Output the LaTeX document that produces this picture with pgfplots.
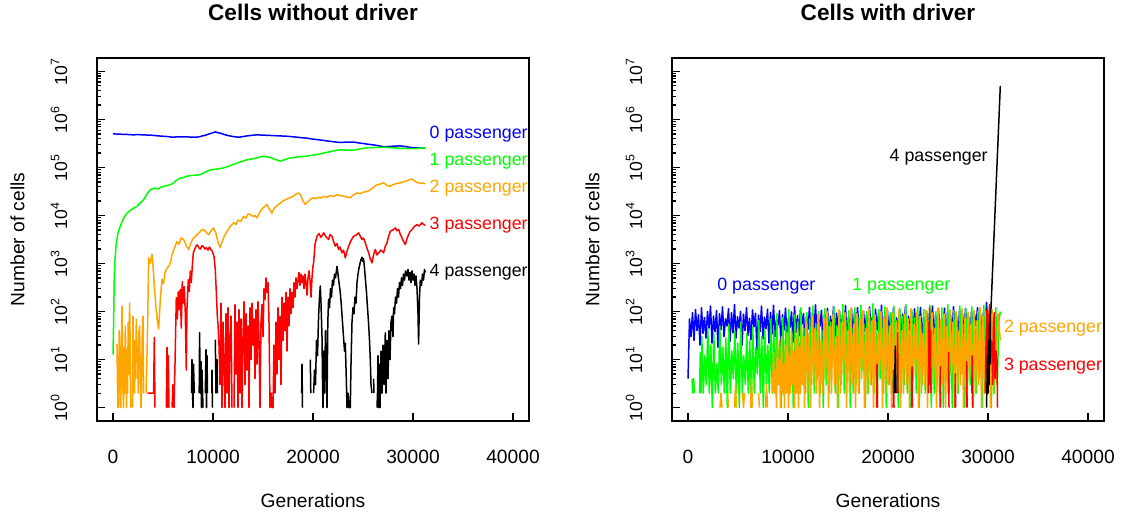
\documentclass[border=0pt]{standalone}
\usepackage{fontspec}
\setmainfont{Liberation Sans}
\usepackage{pgfplots}
\pgfplotsset{compat=1.18}

\definecolor{rblue}{RGB}{0,0,255}
\definecolor{rgreen}{RGB}{0,255,0}
\definecolor{rorange}{RGB}{255,165,0}
\definecolor{rred}{RGB}{255,0,0}

\tikzset{lab/.style={anchor=west, inner sep=0pt, font=\fontsize{8.9}{10}\selectfont}}

\begin{document}
\begin{tikzpicture}
\path[use as bounding box] (0,0) rectangle (561.5pt,259.5pt);

% ---------------- left panel ----------------
\begin{axis}[
    at={(48.5pt,49pt)}, anchor=south west,
    scale only axis, width=216pt, height=181.5pt,
    xmin=-1600, xmax=41600,
    ymode=log, ymin=0.5248, ymax=1.905e7,
    axis line style={line width=0.6pt},
    tick style={black, line width=0.6pt},
    tick align=inside, xtick pos=bottom, ytick pos=left,
    major tick length=4pt, minor tick length=2pt,
    xtick={0,10000,20000,30000,40000},
    xticklabels={0,10000,20000,30000,40000},
    scaled x ticks=false,
    ytick={1,10,100,1000,10000,100000,1000000,10000000},
    yticklabels={10\textsuperscript{0},10\textsuperscript{1},10\textsuperscript{2},10\textsuperscript{3},10\textsuperscript{4},10\textsuperscript{5},10\textsuperscript{6},10\textsuperscript{7}},
    minor ytick={2,3,4,5,6,7,8,9,20,30,40,50,60,70,80,90,200,300,400,500,600,700,800,900,2000,3000,4000,5000,6000,7000,8000,9000,20000,30000,40000,50000,60000,70000,80000,90000,200000,300000,400000,500000,600000,700000,800000,900000,2000000,3000000,4000000,5000000,6000000,7000000,8000000,9000000},
    xticklabel style={font=\fontsize{9.6}{11}\selectfont, anchor=base, yshift=-21.5pt},
    yticklabel style={font=\fontsize{8.8}{10}\selectfont, xshift=-15pt, rotate=90, anchor=base},
    xlabel={Generations}, ylabel={Number of cells},
    xlabel style={at={(axis description cs:0.5,-0.2204)}, anchor=center, font=\fontsize{9.6}{11}\selectfont},
    ylabel style={at={(axis description cs:-0.184,0.5)}, anchor=center, font=\fontsize{9.6}{11}\selectfont},
    title={Cells without driver},
    title style={at={(axis description cs:0.5,1.1267)}, anchor=center, yshift=-6pt, font=\bfseries\fontsize{11.3}{13}\selectfont},
    unbounded coords=jump, clip=false,
    every axis plot/.append style={line width=0.75pt, line join=round},
]
% 0 passenger
\addplot[rblue, no marks] coordinates {(0,501000)(500,495000)(1000,489800)(1500,486000)(2000,478600)(2500,482000)(3000,478600)(3500,472000)(4000,467700)(4500,455000)(5000,446700)(5500,440000)(5900,426600)(6400,433000)(7000,436500)(7700,430000)(8400,426600)(8800,445000)(9200,467700)(9800,512900)(10230,549500)(10500,530000)(10800,512900)(11200,480000)(11600,457100)(12100,438000)(12560,426600)(13000,440000)(13500,457100)(14000,470000)(14400,478600)(14900,472000)(15400,467700)(15900,462000)(16400,457100)(16900,452000)(17400,446700)(17900,438000)(18400,426600)(18900,416000)(19400,407400)(19900,392000)(20400,380200)(21000,368000)(21500,354800)(22100,342000)(22730,331100)(23400,338800)(24060,338800)(24500,326000)(25000,316200)(25500,305000)(26060,295100)(26600,282000)(27060,269200)(27400,272000)(27800,275400)(28300,279000)(28730,281800)(29000,276000)(29400,269200)(29700,262000)(30060,257000)(30400,259000)(30700,255000)(31000,253000)(31230,251200)};
% 1 passenger
\addplot[rgreen, no marks] coordinates {(0,12.6)(60,60)(130,550)(230,1500)(330,2690)(500,4300)(730,6030)(1000,8200)(1200,9800)(1400,11220)(1700,12600)(2000,14000)(2400,15490)(2700,18000)(3060,21380)(3400,28000)(3730,34670)(4000,36000)(4230,37150)(4500,35500)(4800,39000)(5200,41000)(5730,43650)(6000,47000)(6300,53000)(6730,60260)(7100,62000)(7400,66000)(7730,67610)(8200,69000)(8730,70790)(9200,80000)(9730,89130)(10300,92000)(11060,97720)(11500,105000)(12000,115000)(12400,123000)(12900,134000)(13400,144500)(14000,152000)(14500,160000)(14900,169800)(15300,168000)(15730,162200)(16200,148000)(16730,134900)(17200,146000)(17730,158500)(18300,164000)(19060,169800)(19700,176000)(20400,186200)(21000,198000)(21730,213800)(22200,225000)(22730,234400)(23400,229000)(24060,229100)(24700,244000)(25400,257000)(26200,260000)(27060,263000)(27900,257000)(28730,251200)(29400,248000)(30060,245500)(30700,252000)(31230,257000)};
% 2 passenger
\addplot[rorange, no marks] coordinates {(350,0)(397,21)(450,3)(500,1)(560,1)(620,40)(700,6)(780,1)(850,30)(900,129)(960,12)(1000,2)(1060,1)(1120,18)(1180,2)(1230,50)(1300,8)(1350,1)(1400,16)(1460,2)(1520,60)(1580,5)(1660,151)(1720,20)(1760,2)(1800,1)(1850,0)(1900,0)(1950,1)(2000,80)(2060,10)(2100,3)(2160,2)(2220,25)(2280,4)(2330,69)(2400,9)(2460,16)(2520,2)(2580,35)(2660,50)(2720,6)(2800,1)(2850,2)(2920,30)(3000,80)(3063,2)(3100,0)
(3250,0)(3300,2)(3400,12)(3480,90)(3563,1320)(3700,1000)(3897,1550)(4000,900)(4150,300)(4300,120)(4450,60)(4563,43)(4650,90)(4750,200)(4897,470)(5050,380)(5200,650)(5400,800)(5600,900)(5730,1020)(5900,1500)(6100,2000)(6250,2400)(6397,2880)(6600,2500)(6800,3400)(7063,3160)(7250,2600)(7400,2200)(7563,1950)(7800,2700)(8000,3300)(8200,3600)(8397,3980)(8600,4300)(8800,4900)(9063,5130)(9300,4500)(9563,3980)(9800,4800)(10063,5500)(10300,4200)(10500,2800)(10730,2140)(10900,2800)(11100,3600)(11397,4680)(11700,5800)(12063,7080)(12300,6500)(12500,8000)(12800,7600)(13063,9550)(13300,8800)(13500,10800)(13730,10470)(14000,9500)(14200,10000)(14397,8910)(14700,12000)(15000,14500)(15200,15500)(15397,17000)(15600,14000)(15897,11220)(16100,14000)(16400,16000)(16730,18200)(17000,20000)(17300,21500)(17500,22500)(17730,23440)(18000,25000)(18300,28000)(18563,29510)(18800,26000)(19000,20000)(19230,17000)(19500,19500)(19800,22000)(20063,23440)(20300,22500)(20600,24000)(20800,23000)(21063,25120)(21400,24000)(21700,26000)(22000,25000)(22397,26920)(22700,26000)(23000,25500)(23300,24500)(23730,23440)(24000,26500)(24200,28000)(24397,29510)(24700,28500)(25000,30500)(25397,31620)(25700,34000)(26000,38000)(26397,43650)(26700,45000)(27063,47860)(27400,42000)(27730,40740)(28000,44000)(28300,46000)(28730,47860)(29000,50000)(29300,52000)(29600,55000)(29897,57540)(30100,53000)(30300,50000)(30563,47860)(30800,46500)(31000,47500)(31230,45700)};
% 3 passenger
\addplot[rred, no marks] coordinates {(3450,0)(3463,2)(3700,2)(3900,2)(4063,2)(4130,29)(4200,1)(4250,0)
(5300,0)(5330,1)(5400,18)(5470,1)(5530,12)(5600,1)(5650,0)
(5850,0)(5900,1)(6000,3)(6100,1)(6200,8)(6330,195)(6430,70)(6530,260)(6630,110)(6730,290)(6830,45)(6930,420)(7030,150)(7130,330)(7230,90)(7330,6)(7400,120)(7530,460)(7630,260)(7730,700)(7830,400)(7930,900)(8030,1650)(8130,1900)(8300,2300)(8430,2450)(8600,2100)(8730,2000)(8900,2350)(9030,2250)(9200,2000)(9330,2150)(9500,1900)(9630,2200)(9800,1950)(9930,1800)(10100,1400)(10230,750)(10360,185)(10430,80)(10500,55)
(10600,20)(10700,3)(10800,150)(10900,1)(11000,60)(11100,8)(11200,1)(11300,90)(11400,2)(11500,120)(11600,1)(11700,25)(11800,80)(11900,1)(11950,0)(12050,0)(12100,1)(12200,140)(12300,5)(12400,60)(12500,1)(12600,110)(12700,2)(12800,70)(12900,1)(13000,30)(13100,160)(13200,3)(13300,90)(13400,6)(13500,50)(13600,1)(13700,120)(13800,10)(13900,150)(14000,20)(14100,70)(14200,4)(14300,110)(14400,8)(14500,160)(14600,25)(14700,1)(14800,60)(14900,140)(15000,30)(15100,300)(15200,180)(15300,500)(15400,250)(15500,400)(15600,60)(15700,1)(15800,2)(15900,1)(16000,1)
(16100,20)(16200,2)(16300,60)(16400,5)(16500,120)(16600,10)(16700,80)(16800,3)(16900,200)(17000,25)(17100,150)(17200,40)(17300,250)(17400,15)(17500,200)(17600,50)(17700,300)(17800,90)(17900,250)(18000,120)(18100,400)(18200,200)(18300,500)(18400,300)(18500,450)(18600,650)(18700,350)(18800,600)(18900,400)(19000,550)(19100,300)(19200,600)(19300,400)(19400,220)(19500,500)(19600,700)(19700,450)(19800,200)(19900,500)(20000,900)(20063,1030)(20200,2500)(20397,3700)(20600,4200)(20800,3500)(21063,4350)(21300,3600)(21563,3160)(21700,4000)(21897,3700)(22050,2900)(22230,2300)(22400,2600)(22563,1960)(22700,2200)(22897,1670)(23050,1900)(23230,1310)(23400,1800)(23563,2300)(23800,3000)(24063,3700)(24300,3900)(24563,4350)(24700,3800)(24897,3160)(25050,3400)(25230,2690)(25400,2100)(25563,1670)(25700,1300)(25897,1030)(26050,1500)(26230,1960)(26400,1500)(26563,1670)(26800,1900)(27063,1670)(27200,2200)(27397,2690)(27550,3600)(27730,4710)(28000,5000)(28230,5520)(28400,4800)(28563,5100)(28700,4200)(28897,3420)(29050,2900)(29230,2490)(29400,3300)(29563,4010)(29700,4600)(29897,5100)(30100,5800)(30397,6460)(30600,6000)(30897,7020)(31050,6500)(31230,6200)};
% 4 passenger
\addplot[black, no marks] coordinates {(7800,0)(7850,2)(7900,10)(7950,2)(8000,1)(8050,8)(8130,2)(8200,0)
(8600,0)(8620,2)(8660,36)(8720,2)(8800,9)(8850,1)(8900,6)(8960,2)(9000,1)(9050,0)
(9200,0)(9230,2)(9300,16)(9350,1)(9400,12)(9450,2)(9500,0)
(9850,0)(9880,2)(9900,6)(9950,1)(10000,0)
(10200,0)(10230,26)(10300,2)(10400,10)(10450,2)(10500,0)
(18850,0)(18870,2)(18900,8)(18950,1)(19000,0)
(19700,0)(19730,10)(19780,2)(19850,0)
(20000,0)(20060,2)(20150,6)(20250,3)(20350,25)(20450,12)(20560,80)(20650,200)(20730,340)(20800,150)(20900,30)(20950,4)(21000,1)(21060,15)(21150,2)(21250,40)(21330,6)(21400,1)(21480,60)(21560,180)(21650,120)(21750,300)(21850,200)(21950,450)(22050,350)(22150,600)(22250,500)(22400,870)(22500,600)(22600,400)(22730,250)(22850,120)(22950,60)(23050,30)(23150,15)(23230,22)(23330,4)(23400,1)(23500,2)(23600,1)(23730,1)(23800,8)(23900,60)(24000,120)(24100,90)(24200,200)(24300,150)(24400,400)(24500,600)(24600,800)(24700,1000)(24800,1200)(24900,1350)(25000,1100)(25060,1250)(25150,800)(25230,500)(25350,250)(25450,120)(25550,60)(25650,25)(25730,10)(25800,3)(25900,2)(25950,0)
(26050,0)(26060,4)(26100,2)(26150,0)
(26350,0)(26400,1)(26450,2)(26500,12)(26550,1)(26650,8)(26700,1)(26800,15)(26900,2)(27000,20)(27100,3)(27230,36)(27300,2)(27400,25)(27500,4)(27600,40)(27700,10)(27800,60)(27900,80)(28000,30)(28060,120)(28150,90)(28250,200)(28350,150)(28450,300)(28550,200)(28650,400)(28750,300)(28850,500)(28950,350)(29050,600)(29150,450)(29250,700)(29400,550)(29500,750)(29600,450)(29700,650)(29800,400)(29900,700)(30000,450)(30100,600)(30200,350)(30300,550)(30400,300)(30500,90)(30560,21)(30650,200)(30730,450)(30850,350)(30950,600)(31050,450)(31150,750)(31230,650)};
\node[lab, text=rblue] at (axis cs:31630,5.0e5) {0 passenger};
\node[lab, text=rgreen] at (axis cs:31630,1.34e5) {1 passenger};
\node[lab, text=rorange] at (axis cs:31630,3.8e4) {2 passenger};
\node[lab, text=rred] at (axis cs:31630,6300) {3 passenger};
\node[lab, text=black] at (axis cs:31630,650) {4 passenger};
\end{axis}

% ---------------- right panel ----------------
\begin{axis}[
    at={(336pt,49pt)}, anchor=south west,
    scale only axis, width=216pt, height=181.5pt,
    xmin=-1600, xmax=41600,
    ymode=log, ymin=0.5248, ymax=1.905e7,
    axis line style={line width=0.6pt},
    tick style={black, line width=0.6pt},
    tick align=inside, xtick pos=bottom, ytick pos=left,
    major tick length=4pt, minor tick length=2pt,
    xtick={0,10000,20000,30000,40000},
    xticklabels={0,10000,20000,30000,40000},
    scaled x ticks=false,
    ytick={1,10,100,1000,10000,100000,1000000,10000000},
    yticklabels={10\textsuperscript{0},10\textsuperscript{1},10\textsuperscript{2},10\textsuperscript{3},10\textsuperscript{4},10\textsuperscript{5},10\textsuperscript{6},10\textsuperscript{7}},
    minor ytick={2,3,4,5,6,7,8,9,20,30,40,50,60,70,80,90,200,300,400,500,600,700,800,900,2000,3000,4000,5000,6000,7000,8000,9000,20000,30000,40000,50000,60000,70000,80000,90000,200000,300000,400000,500000,600000,700000,800000,900000,2000000,3000000,4000000,5000000,6000000,7000000,8000000,9000000},
    xticklabel style={font=\fontsize{9.6}{11}\selectfont, anchor=base, yshift=-21.5pt},
    yticklabel style={font=\fontsize{8.8}{10}\selectfont, xshift=-15pt, rotate=90, anchor=base},
    xlabel={Generations}, ylabel={Number of cells},
    xlabel style={at={(axis description cs:0.5,-0.2204)}, anchor=center, font=\fontsize{9.6}{11}\selectfont},
    ylabel style={at={(axis description cs:-0.184,0.5)}, anchor=center, font=\fontsize{9.6}{11}\selectfont},
    title={Cells with driver},
    title style={at={(axis description cs:0.5,1.1267)}, anchor=center, yshift=-6pt, font=\bfseries\fontsize{11.3}{13}\selectfont},
    unbounded coords=jump, clip=false,
    every axis plot/.append style={line width=0.75pt, line join=round},
]
% 0 passenger
\addplot[rblue, no marks] coordinates {(0,4)(150,70)(300,30)(450,95)(600,25)(750,110)(900,40)(1050,85)(1200,20)(1350,120)(1500,35)(1650,75)(1800,28)(1950,100)(2100,45)(2250,130)(2400,22)(2550,80)(2700,38)(2850,105)(3000,18)(3150,90)(3300,42)(3450,125)(3600,30)(3750,70)(3900,50)(4050,115)(4200,24)(4350,95)(4500,36)(4650,140)(4800,28)(4950,78)(5100,45)(5250,100)(5400,20)(5550,88)(5700,40)(5850,120)(6000,32)(6150,72)(6300,26)(6450,108)(6600,48)(6750,92)(6900,15)(7050,84)(7200,38)(7350,130)(7500,27)(7650,76)(7800,44)(7950,112)(8100,22)(8250,96)(8400,34)(8550,135)(8700,30)(8850,68)(9000,52)(9150,104)(9300,19)(9450,86)(9600,41)(9750,118)(9900,29)(10050,74)(10200,47)(10350,98)(10500,23)(10650,128)(10800,37)(10950,82)(11100,31)(11250,110)(11400,55)(11550,90)(11700,21)(11850,78)(12000,43)(12150,122)(12300,26)(12450,94)(12600,39)(12750,138)(12900,33)(13050,70)(13200,50)(13350,106)(13500,17)(13650,88)(13800,45)(13950,116)(14100,28)(14250,80)(14400,36)(14550,126)(14700,24)(14850,92)(15000,48)(15150,100)(15300,30)(15450,84)(15600,40)(15750,132)(15900,22)(16050,76)(16200,52)(16350,110)(16500,27)(16650,96)(16800,35)(16950,120)(17100,44)(17250,72)(17400,20)(17550,102)(17700,38)(17850,86)(18000,29)(18150,124)(18300,46)(18450,78)(18600,25)(18750,112)(18900,41)(19050,90)(19200,32)(19350,136)(19500,19)(19650,82)(19800,49)(19950,104)(20100,26)(20250,94)(20400,37)(20550,118)(20700,30)(20850,74)(21000,43)(21150,108)(21300,23)(21450,88)(21600,53)(21750,128)(21900,28)(22050,80)(22200,40)(22350,98)(22500,21)(22650,114)(22800,34)(22950,84)(23100,47)(23250,122)(23400,25)(23550,76)(23700,38)(23850,102)(24000,31)(24150,92)(24300,50)(24450,130)(24600,22)(24750,86)(24900,42)(25050,110)(25200,29)(25350,70)(25500,45)(25650,118)(25800,18)(25950,96)(26100,36)(26250,84)(26400,27)(26550,126)(26700,48)(26850,78)(27000,24)(27150,106)(27300,39)(27450,90)(27600,32)(27750,116)(27900,44)(28050,74)(28200,20)(28350,100)(28500,35)(28650,88)(28800,51)(28950,120)(29100,26)(29250,82)(29400,40)(29550,96)(29700,30)(29850,155)(30000,45)(30150,70)(30300,28)(30450,60)(30600,20)};
% 1 passenger
\addplot[rgreen, no marks] coordinates {(300,0)(400,4)(480,2)(560,4)(640,2)(720,0)(1100,0)(1150,2)(1230,14)(1300,2)(1380,30)(1530,2)(1680,12)(1830,3)(1980,45)(2130,2)(2280,20)(2430,1)(2580,35)(2730,2)(2880,8)(3030,2)(3180,50)(3330,3)(3480,18)(3630,2)(3780,28)(3930,1)(4080,55)(4230,2)(4380,15)(4530,4)(4680,40)(4830,2)(4980,22)(5130,1)(5280,60)(5430,2)(5580,12)(5730,3)(5880,35)(6030,2)(6180,25)(6330,1)(6480,48)(6630,2)(6780,18)(6930,5)(7080,65)(7230,2)(7380,30)(7530,1)(7680,42)(7830,3)(7980,20)(8130,2)(8280,70)(8430,2)(8580,40)(8730,2)(8880,90)(9030,3)(9180,25)(9330,1)(9480,75)(9630,2)(9780,50)(9930,6)(10080,110)(10230,2)(10380,35)(10530,1)(10680,85)(10830,3)(10980,60)(11130,2)(11280,120)(11430,8)(11580,45)(11730,2)(11880,95)(12030,1)(12180,70)(12330,3)(12480,130)(12630,2)(12780,55)(12930,4)(13080,100)(13230,2)(13380,40)(13530,1)(13680,115)(13830,3)(13980,80)(14130,2)(14280,60)(14430,10)(14580,125)(14730,2)(14880,50)(15030,1)(15180,90)(15330,3)(15480,140)(15630,2)(15780,65)(15930,5)(16080,105)(16230,1)(16380,45)(16530,2)(16680,120)(16830,3)(16980,75)(17130,2)(17280,135)(17430,6)(17580,55)(17730,1)(17880,100)(18030,2)(18180,80)(18330,3)(18480,145)(18630,2)(18780,60)(18930,1)(19080,110)(19230,4)(19380,70)(19530,2)(19680,125)(19830,1)(19980,50)(20130,3)(20280,95)(20430,2)(20580,130)(20730,8)(20880,65)(21030,1)(21180,115)(21330,2)(21480,80)(21630,3)(21780,140)(21930,2)(22080,55)(22230,1)(22380,105)(22530,4)(22680,75)(22830,2)(22980,125)(23130,1)(23280,60)(23430,3)(23580,110)(23730,2)(23880,90)(24030,6)(24180,135)(24330,1)(24480,50)(24630,2)(24780,100)(24930,3)(25080,70)(25230,2)(25380,120)(25530,1)(25680,85)(25830,4)(25980,140)(26130,2)(26280,60)(26430,1)(26580,105)(26730,3)(26880,75)(27030,2)(27180,130)(27330,5)(27480,55)(27630,1)(27780,115)(27930,2)(28080,80)(28230,3)(28380,125)(28530,1)(28680,65)(28830,2)(28980,100)(29130,4)(29280,90)(29430,1)(29580,135)(29730,2)(29880,70)(30030,3)(30180,110)(30330,1)(30480,80)(30630,2)(30780,120)(30930,3)(31080,60)(31230,100)};
% 2 passenger
\addplot[rorange, no marks] coordinates {(3150,0)(3200,1)(3300,2)(3400,1)(3450,0)(3900,0)(3950,2)(4050,1)(4100,0)(4600,0)(4650,1)(4750,3)(4850,1)(4900,0)(5400,0)(5450,2)(5550,1)(5650,2)(5700,0)(6200,0)(6250,1)(6350,4)(6450,1)(6500,0)(7000,0)(7050,2)(7150,1)(7250,0)(7700,0)(7750,1)(7850,3)(7950,1)(8000,0)
(8400,0)(8450,2)(8550,14)(8650,2)(8750,6)(8850,1)(8950,25)(9050,3)(9150,10)(9250,1)(9350,30)(9450,2)(9550,8)(9650,1)(9750,20)(9850,2)(9950,35)(10050,1)(10150,12)(10250,2)(10350,40)(10450,3)(10550,15)(10650,1)(10750,28)(10850,2)(10950,45)(11050,1)(11150,18)(11250,2)(11350,50)(11450,3)(11550,30)(11650,1)
(11800,60)(11950,2)(12100,35)(12250,1)(12400,80)(12550,3)(12700,45)(12850,2)(13000,90)(13150,1)(13300,25)(13450,2)(13600,70)(13750,4)(13900,100)(14050,1)(14200,50)(14350,2)(14500,85)(14650,3)(14800,30)(14950,1)(15100,110)(15250,2)(15400,60)(15550,5)(15700,95)(15850,1)(16000,40)(16150,2)(16300,120)(16450,3)(16600,55)(16750,1)(16900,90)(17050,2)(17200,70)(17350,4)(17500,105)(17650,1)(17800,45)(17950,2)(18100,115)(18250,3)(18400,65)(18550,1)(18700,85)(18850,2)(19000,35)(19150,6)(19300,100)(19450,1)(19600,75)(19750,2)(19900,120)(20050,3)(20200,50)(20350,1)(20500,95)(20650,2)(20800,60)(20950,4)(21100,110)(21250,1)(21400,40)(21550,2)(21700,90)(21850,3)(22000,70)(22150,1)(22300,115)(22450,2)(22600,55)(22750,5)(22900,100)(23050,1)(23200,80)(23350,2)(23500,35)(23650,3)(23800,105)(23950,1)(24100,65)(24250,2)(24400,95)(24550,4)(24700,45)(24850,1)(25000,120)(25150,2)(25300,70)(25450,3)(25600,90)(25750,1)(25900,50)(26050,2)(26200,110)(26350,5)(26500,60)(26650,1)(26800,100)(26950,2)(27100,40)(27250,3)(27400,115)(27550,1)(27700,75)(27850,2)(28000,95)(28150,4)(28300,55)(28450,1)(28600,105)(28750,2)(28900,65)(29050,3)(29200,120)(29350,1)(29500,80)(29650,2)(29800,100)(29950,5)(30100,60)(30250,1)(30400,110)(30550,2)(30700,70)(30850,3)(31000,90)(31150,40)(31230,25)};
% 3 passenger
\addplot[rred, no marks] coordinates {(18800,0)(18850,1)(18900,8)(18950,1)(19000,0)(20500,0)(20520,1)(20560,6)(20600,1)(20650,0)(20900,0)(20920,2)(20960,36)(21000,2)(21050,0)(22350,0)(22370,1)(22400,7)(22430,1)(22480,0)(24000,0)(24030,2)(24080,60)(24120,3)(24160,120)(24200,5)(24250,40)(24290,2)(24330,0)(25180,0)(25200,1)(25230,7)(25260,1)(25300,0)(26000,0)(26030,2)(26060,14)(26100,1)(26150,0)(26700,0)(26710,1)(26730,5)(26760,1)(26800,0)(27800,0)(27830,1)(27870,9)(27910,1)(27950,0)(28350,0)(28380,2)(28420,12)(28460,1)(28500,0)(29700,0)(29730,2)(29800,20)(29900,110)(29950,5)(30050,60)(30160,140)(30220,8)(30300,25)(30400,22)(30470,3)(30550,50)(30630,95)(30700,4)(30800,15)(30900,10)(30950,1)(31000,0)};
% 4 passenger
\addplot[black, no marks] coordinates {(20600,0)(20650,2)(20730,19)(20800,2)(20850,0)(29800,0)(29850,1)(29950,12)(30000,2)(30050,25)(30100,3)(30150,60)(30200,8)(30250,100)(30300,120)(30500,1170)(30700,11500)(30900,115000)(31100,1120000)(31230,5000000)};
\node[lab, text=black] at (axis cs:20130,1.6e5) {4 passenger};
\node[lab, text=rblue] at (axis cs:2900,331) {0 passenger};
\node[lab, text=rgreen] at (axis cs:16400,331) {1 passenger};
\node[lab, text=rorange] at (axis cs:31560,44.6) {2 passenger};
\node[lab, text=rred] at (axis cs:31560,7.2) {3 passenger};
\end{axis}
\end{tikzpicture}
\end{document}
